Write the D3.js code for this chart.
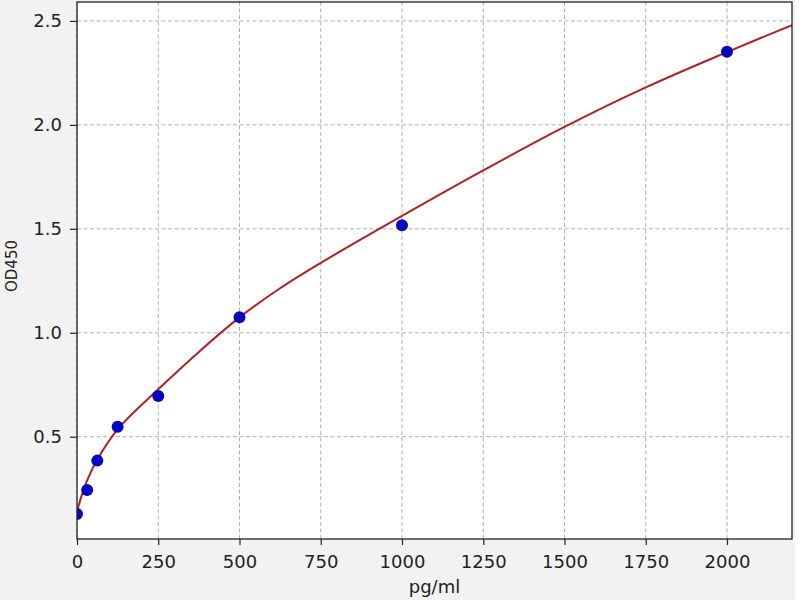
<!DOCTYPE html>
<html>
<head>
<meta charset="utf-8">
<script src="https://cdn.jsdelivr.net/npm/d3@7"></script>
<style>
html,body{margin:0;padding:0;background:#fff;}
svg{display:block;}
</style>
</head>
<body>
<svg id="chart" width="800" height="600"></svg>
<script>
// Standard points
const concentrations = [0, 31.25, 62.5, 125, 250, 500, 1000, 2000];
const odValues = [0.128, 0.244, 0.385, 0.548, 0.696, 1.075, 1.517, 2.352];
// Fitted curve
const curveX = [0, 15, 31.25, 62.5, 125, 250, 375, 500, 625, 750, 1000, 1250, 1500, 1750, 2000, 2200];
const curveY = [0.14, 0.22, 0.29, 0.39, 0.535, 0.728, 0.908, 1.074, 1.214, 1.336, 1.562, 1.781, 1.99, 2.18, 2.35, 2.48];
// Tick labels
const xTicks = [0, 250, 500, 750, 1000, 1250, 1500, 1750, 2000];
const yTicks = [0.5, 1.0, 1.5, 2.0, 2.5];
const xLabel = "pg/ml";
const yLabel = "OD450";

const svg = d3.select("#chart");
const W = 800, H = 600;
const m = {left: 77, top: 2, right: 792, bottom: 539};

svg.append("rect").attr("x", 0).attr("y", 0).attr("width", 795).attr("height", H).attr("fill", "#f2f2f2");

const x = d3.scaleLinear().domain([0, 2200]).range([m.left, m.right]);
const y = d3.scaleLinear().domain([0.008, 2.591]).range([m.bottom, m.top]);

svg.append("rect").attr("x", m.left).attr("y", m.top)
  .attr("width", m.right - m.left).attr("height", m.bottom - m.top).attr("fill", "#fff");

const font = "DejaVu Sans, sans-serif";

// grid
const grid = svg.append("g").attr("stroke", "#b0b0b0").attr("stroke-width", 1).attr("stroke-dasharray", "4,2.5");
grid.selectAll("line.vx").data(xTicks).join("line")
  .attr("x1", d => x(d)).attr("x2", d => x(d)).attr("y1", m.top).attr("y2", m.bottom);
grid.selectAll("line.hy").data(yTicks).join("line")
  .attr("y1", d => y(d)).attr("y2", d => y(d)).attr("x1", m.left).attr("x2", m.right);

// clip
svg.append("clipPath").attr("id", "clip").append("rect")
  .attr("x", m.left).attr("y", m.top).attr("width", m.right - m.left).attr("height", m.bottom - m.top);

const line = d3.line().x(d => x(d[0])).y(d => y(d[1])).curve(d3.curveCatmullRom.alpha(0.5));
svg.append("path").datum(curveX.map((v, i) => [v, curveY[i]]))
  .attr("clip-path", "url(#clip)")
  .attr("d", line).attr("fill", "none").attr("stroke", "#b22222").attr("stroke-width", 2);

svg.append("g").attr("clip-path", "url(#clip)")
  .selectAll("circle").data(concentrations.map((v, i) => [v, odValues[i]])).join("circle")
  .attr("cx", d => x(d[0])).attr("cy", d => y(d[1])).attr("r", 6).attr("fill", "#0505c0");

// axes
const xAxis = d3.axisBottom(x).tickValues(xTicks).tickFormat(d3.format("d")).tickSize(6).tickPadding(10);
const yAxis = d3.axisLeft(y).tickValues(yTicks).tickFormat(d3.format(".1f")).tickSize(7).tickPadding(8);
const gx = svg.append("g").attr("transform", `translate(0,${m.bottom})`).call(xAxis);
const gy = svg.append("g").attr("transform", `translate(${m.left},0)`).call(yAxis);
[gx, gy].forEach(g => {
  g.select(".domain").remove();
  g.selectAll("line").attr("stroke", "#222").attr("stroke-width", 1.2);
  g.selectAll("text").attr("font-family", font).attr("font-size", 18).attr("fill", "#222");
});

// frame
svg.append("rect").attr("x", m.left).attr("y", m.top)
  .attr("width", m.right - m.left).attr("height", m.bottom - m.top)
  .attr("fill", "none").attr("stroke", "#222").attr("stroke-width", 1.3);

svg.append("text").attr("x", (m.left + m.right) / 2).attr("y", 593)
  .attr("text-anchor", "middle").attr("font-family", font).attr("font-size", 18).attr("fill", "#222")
  .text(xLabel);
svg.append("text").attr("transform", `translate(17,266) rotate(-90)`)
  .attr("text-anchor", "middle").attr("font-family", font).attr("font-size", 15).attr("fill", "#222")
  .text(yLabel);
</script>
</body>
</html>
